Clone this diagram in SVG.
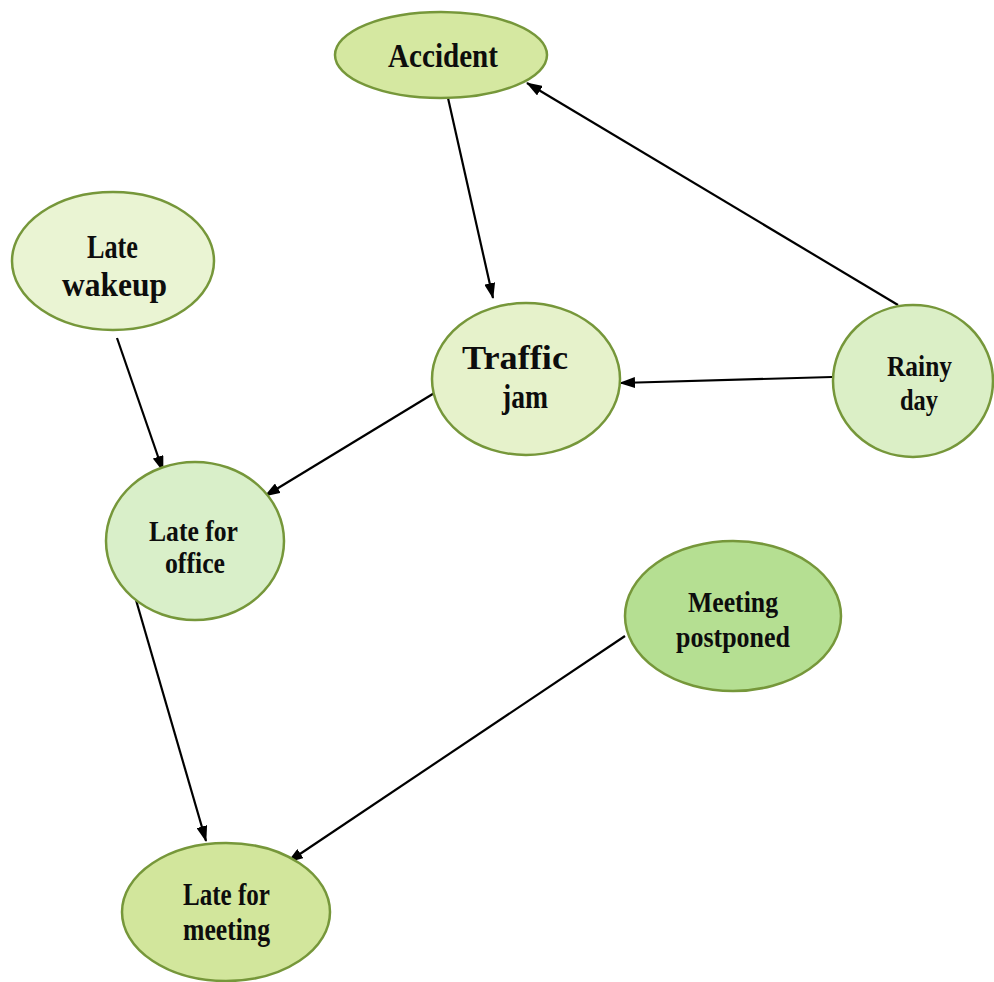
<svg xmlns="http://www.w3.org/2000/svg" width="994" height="982" viewBox="0 0 994 982">
  <defs>
    <marker id="arrow" viewBox="0 0 16 11" refX="15" refY="5.5" markerWidth="16" markerHeight="11" markerUnits="userSpaceOnUse" orient="auto">
      <path d="M0,0 L16,5.5 L0,11 Z" fill="#000"/>
    </marker>
    <style>
      .node ellipse { stroke: #76973a; stroke-width: 2.5; }
      .node text { font-family: "Liberation Serif", "Times New Roman", serif; font-weight: bold; font-size: 32px; fill: #0d0d0d; }
      .edges line { stroke: #000; stroke-width: 2.2; marker-end: url(#arrow); }
    </style>
  </defs>
  <rect width="994" height="982" fill="#ffffff"/>

  <g class="edges" id="edges">
    <line x1="448" y1="98" x2="493" y2="298"/>
    <line x1="898" y1="305" x2="527" y2="83"/>
    <line x1="832" y1="377" x2="620" y2="383"/>
    <line x1="117" y1="338" x2="163" y2="471"/>
    <line x1="436" y1="392" x2="265" y2="496"/>
    <line x1="136" y1="600" x2="206" y2="841"/>
    <line x1="625" y1="636" x2="288" y2="862"/>
  </g>

  <g class="node" id="accident">
    <ellipse cx="441" cy="55" rx="106" ry="43" fill="#d5e8a1"/>
    <text x="388" y="67" textLength="110" lengthAdjust="spacingAndGlyphs" style="font-size:34px">Accident</text>
  </g>

  <g class="node" id="late-wakeup">
    <ellipse cx="113" cy="261" rx="101" ry="69" fill="#eaf4d3"/>
    <text x="87" y="258" textLength="51" lengthAdjust="spacingAndGlyphs" style="font-size:33px">Late</text>
    <text x="62" y="296" textLength="105" lengthAdjust="spacingAndGlyphs" style="font-size:33px">wakeup</text>
  </g>

  <g class="node" id="traffic-jam">
    <ellipse cx="526" cy="379" rx="94" ry="76" fill="#e6f2cb"/>
    <text x="462" y="369" textLength="106" lengthAdjust="spacingAndGlyphs" style="font-size:33px">Traffic</text>
    <text x="502" y="408" textLength="46" lengthAdjust="spacingAndGlyphs" style="font-size:33px">jam</text>
  </g>

  <g class="node" id="rainy-day">
    <ellipse cx="913" cy="381" rx="80" ry="76" fill="#dbefc6"/>
    <text x="887" y="376" textLength="65" lengthAdjust="spacingAndGlyphs" style="font-size:29px">Rainy</text>
    <text x="900" y="410" textLength="38" lengthAdjust="spacingAndGlyphs" style="font-size:29px">day</text>
  </g>

  <g class="node" id="late-for-office">
    <ellipse cx="195" cy="541" rx="89" ry="79" fill="#d9efc9"/>
    <text x="149" y="541" textLength="89" lengthAdjust="spacingAndGlyphs" style="font-size:30px">Late for</text>
    <text x="165" y="573" textLength="60" lengthAdjust="spacingAndGlyphs" style="font-size:30px">office</text>
  </g>

  <g class="node" id="meeting-postponed">
    <ellipse cx="733" cy="616" rx="108" ry="75" fill="#b5df92"/>
    <text x="688" y="612" textLength="90" lengthAdjust="spacingAndGlyphs" style="font-size:30px">Meeting</text>
    <text x="676" y="647" textLength="114" lengthAdjust="spacingAndGlyphs" style="font-size:30px">postponed</text>
  </g>

  <g class="node" id="late-for-meeting">
    <ellipse cx="226" cy="912" rx="104" ry="69" fill="#d2e69c"/>
    <text x="183" y="905" textLength="87" lengthAdjust="spacingAndGlyphs" style="font-size:31px">Late for</text>
    <text x="183" y="940" textLength="87" lengthAdjust="spacingAndGlyphs" style="font-size:31px">meeting</text>
  </g>
</svg>
